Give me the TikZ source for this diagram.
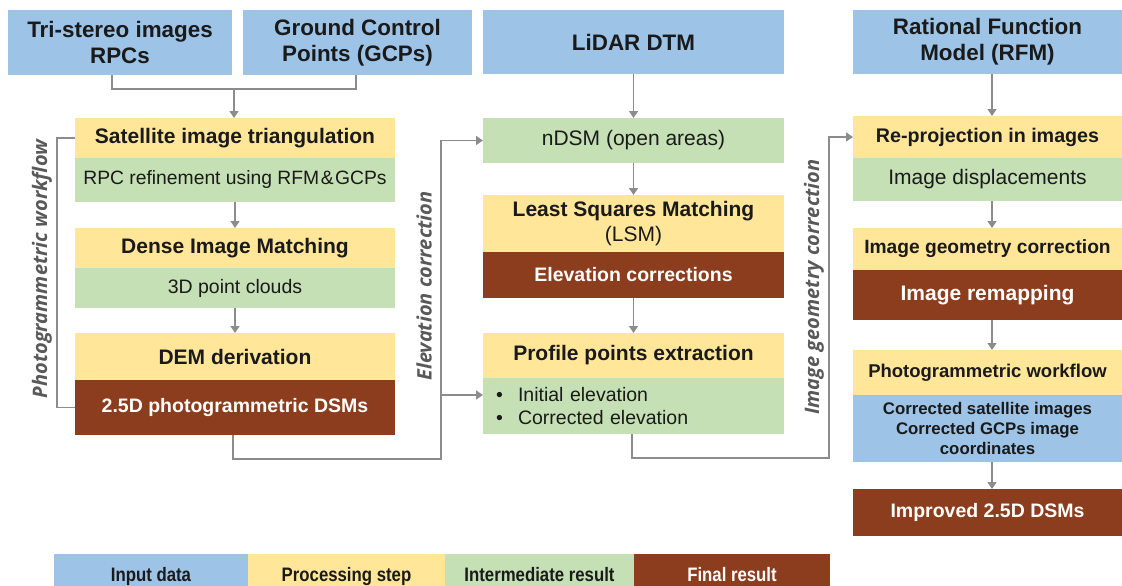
\documentclass[tikz,border=0pt]{standalone}
\usepackage{fontspec}
\setmainfont{Liberation Sans}
\newfontfamily\sidefont{Open Sans}
\newfontfamily\legfont[FakeStretch=0.86]{Liberation Sans}
\usetikzlibrary{arrows.meta}
\definecolor{cblue}{HTML}{9DC3E6}
\definecolor{cyel}{HTML}{FFE699}
\definecolor{cgreen}{HTML}{C5E0B4}
\definecolor{cbrown}{HTML}{8B3D1D}
\definecolor{txt}{HTML}{1A1A1A}
\definecolor{lgray}{HTML}{8C8C8C}
\definecolor{sgray}{HTML}{595959}
\newcommand\fsz[2]{\fontsize{#1pt}{#2pt}\selectfont}
\newcommand\legtxt[1]{\raisebox{-11pt}[0pt][0pt]{#1}}
\begin{document}
\begin{tikzpicture}[x=1pt,y=-1pt,
  bx/.style={inner sep=0pt, outer sep=0pt, anchor=north west, align=center, text=txt},
  inp/.style={bx, fill=cblue, font=\fsz{22.4}{26}\bfseries},
  proc/.style={bx, fill=cyel, font=\fsz{21}{25}\bfseries},
  inter/.style={bx, fill=cgreen, font=\fsz{19.5}{23}},
  fin/.style={bx, fill=cbrown, text=white, font=\fsz{19.5}{23}\bfseries},
  leg/.style={bx, font=\legfont\fsz{19.5}{22}\bfseries, minimum height=32pt},
  side/.style={text=sgray, font=\sidefont\fsz{20}{22}\bfseries\itshape, inner sep=0pt},
  conn/.style={draw=lgray, line width=1.4pt},
  arr/.style={conn, -{Triangle[width=9pt,length=7pt]}}
]
\useasboundingbox (0,0) rectangle (1122,586);

% top inputs
\node[inp, minimum width=224pt, minimum height=65pt] (tri) at (8,10) {Tri-stereo images\\RPCs};
\node[inp, minimum width=229pt, minimum height=65pt] (gcp) at (243,10) {Ground Control\\Points (GCPs)};
\node[inp, minimum width=301pt, minimum height=64pt] (lidar) at (483,10) {LiDAR DTM};
\node[inp, minimum width=269pt, minimum height=64pt] (rfm) at (853,10) {Rational Function\\Model (RFM)};

% left column
\node[proc, minimum width=320pt, minimum height=40pt] (sat) at (75,118) {Satellite image triangulation};
\node[inter, minimum width=320pt, minimum height=44pt, font=\fsz{19.3}{23}] (rpc) at (75,158) {RPC refinement using RFM\kern1.5pt\&\kern1.5pt GCPs};
\node[proc, minimum width=320pt, minimum height=40pt] (dim) at (75,228) {Dense Image Matching};
\node[inter, minimum width=320pt, minimum height=40pt] (pc) at (75,268) {3D point clouds};
\node[proc, minimum width=320pt, minimum height=47pt] (dem) at (75,333) {DEM derivation};
\node[fin, minimum width=320pt, minimum height=55pt] (dsm) at (75,380) {2.5D photogrammetric DSMs};

% middle column
\node[inter, minimum width=301pt, minimum height=45pt, font=\fsz{21}{25}] (ndsm) at (483,118) {nDSM (open areas)};
\node[proc, minimum width=301pt, minimum height=57pt] (lsm) at (483,195) {Least Squares Matching\\{\mdseries (LSM)}};
\node[fin, minimum width=301pt, minimum height=46pt] (elev) at (483,252) {Elevation corrections};
\node[proc, minimum width=301pt, minimum height=45pt] (prof) at (483,333) {Profile points extraction};
\node[inter, minimum width=301pt, minimum height=56pt, text width=301pt, align=left] (profg) at (483,378)
  {\hspace*{13pt}\makebox[22pt][l]{\textbullet}Initial elevation\\\hspace*{13pt}\makebox[22pt][l]{\textbullet}Corrected elevation};

% right column
\node[proc, minimum width=269pt, minimum height=42pt, font=\fsz{19.7}{23}\bfseries] (reproj) at (853,116) {Re-projection in images};
\node[inter, minimum width=269pt, minimum height=43pt, font=\fsz{21}{25}] (disp) at (853,158) {Image displacements};
\node[proc, minimum width=269pt, minimum height=42pt, font=\fsz{19.2}{23}\bfseries] (igc) at (853,228) {Image geometry correction};
\node[fin, minimum width=269pt, minimum height=50pt, font=\fsz{21}{25}\bfseries] (remap) at (853,270) {Image remapping};
\node[proc, minimum width=269pt, minimum height=45pt, font=\fsz{18.5}{22}\bfseries] (pw) at (853,350) {Photogrammetric workflow};
\node[inp, minimum width=269pt, minimum height=67pt, font=\fsz{16.8}{20}\bfseries] (pwb) at (853,395) {Corrected satellite images\\Corrected GCPs image\\coordinates};
\node[fin, minimum width=269pt, minimum height=47pt] (imp) at (853,489) {Improved 2.5D DSMs};

% legend
\node[leg, fill=cblue, minimum width=194pt] (l1) at (54,554) {\legtxt{Input data}};
\node[leg, fill=cyel, minimum width=197pt] (l2) at (248,554) {\legtxt{Processing step}};
\node[leg, fill=cgreen, minimum width=189pt] (l3) at (445,554) {\legtxt{Intermediate result}};
\node[leg, fill=cbrown, text=white, minimum width=196pt] (l4) at (634,554) {\legtxt{Final result}};

% side labels
\node[side, rotate=90] (s1) at (42,269) {Photogrammetric workflow};
\node[side, rotate=90] (s2) at (424,286) {Elevation correction};
\node[side, rotate=90] (s3) at (814,287) {Image geometry correction};

% connectors
\coordinate (j1) at (234,89);
\draw[conn] ([xshift=-8pt]tri.south) |- (j1) -| ([xshift=-1.5pt]gcp.south);
\draw[arr] (j1) -- (j1 |- sat.north);
\draw[arr] (rpc.south) -- (dim.north);
\draw[arr] (pc.south) -- (dem.north);
\draw[conn] (sat.west) -- ++(-18,0) |- (dsm.west);

\draw[arr] (lidar.south) -- (ndsm.north);
\draw[arr] (ndsm.south) -- (lsm.north);
\draw[arr] (elev.south) -- (prof.north);

\coordinate (ev) at (441,459);
\coordinate (eb) at (441,395);
\draw[arr] ([xshift=-2pt]dsm.south) |- (ev) |- (ndsm.west);
\draw[arr] (eb) -- (eb -| profg.west);

\coordinate (gv) at (829,458);
\draw[arr] ([xshift=-1.5pt]profg.south) |- (gv) |- (reproj.west);

\draw[arr] ([xshift=4.5pt]rfm.south) -- ([xshift=4.5pt]reproj.north);
\draw[arr] ([xshift=4.5pt]disp.south) -- ([xshift=4.5pt]igc.north);
\draw[arr] ([xshift=4.5pt]remap.south) -- ([xshift=4.5pt]pw.north);
\draw[arr] ([xshift=4.5pt]pwb.south) -- ([xshift=4.5pt]imp.north);
\end{tikzpicture}
\end{document}
